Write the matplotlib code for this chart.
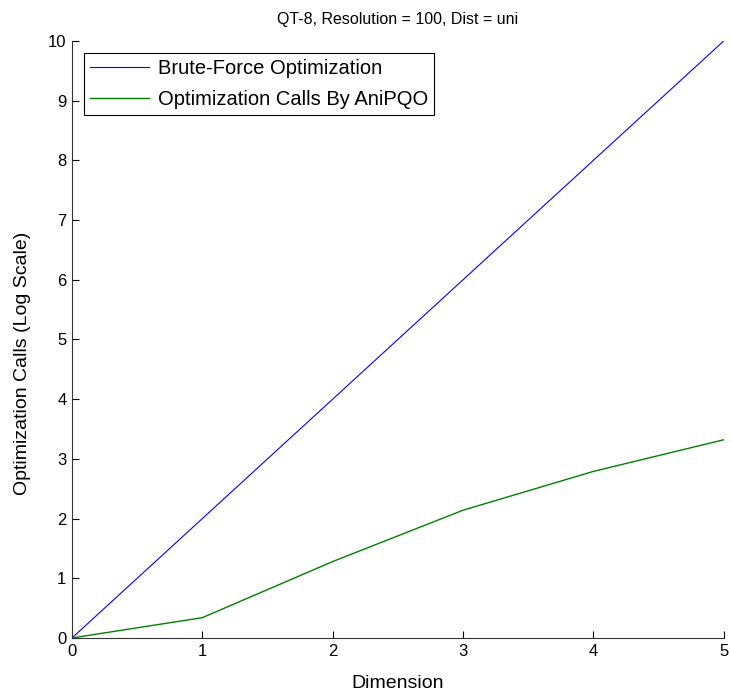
import numpy as np
import matplotlib.pyplot as plt

plt.rcParams['font.family'] = ['Liberation Sans', 'DejaVu Sans']

dims = [0, 1, 2, 3, 4, 5]
brute = [0, 2, 4, 6, 8, 10]
anipqo = [0, 0.34, 1.28, 2.14, 2.79, 3.32]

fig = plt.figure(figsize=(7.31, 6.97), dpi=100)
ax = fig.add_axes([0.0985, 0.0847, 0.8915, 0.8565])

ax.plot(dims, brute, color='#0000ff', lw=0.8, label='Brute-Force Optimization')
ax.plot(dims, anipqo, color='#008000', lw=1.0, label='Optimization Calls By AniPQO')

ax.set_xlim(0, 5)
ax.set_ylim(0, 10)
ax.set_xticks(range(0, 6))
ax.set_yticks(range(0, 11))
ax.tick_params(direction='in', length=5, labelsize=12, width=0.8, pad=4)
ax.spines['top'].set_visible(False)
ax.spines['right'].set_visible(False)
for s in ['left', 'bottom']:
    ax.spines[s].set_linewidth(0.8)
    ax.spines[s].set_color('#333333')

ax.set_xlabel('Dimension', fontsize=14, labelpad=12)
ax.set_ylabel('Optimization Calls (Log Scale)', fontsize=14)
ax.yaxis.set_label_coords(-0.063, 0.46)
ax.set_title('QT-8, Resolution = 100, Dist = uni', fontsize=11.5, pad=12)

leg = ax.legend(loc='upper left', fontsize=14.5, fancybox=False, edgecolor='black',
                framealpha=1, handlelength=2.9, handletextpad=0.45,
                borderaxespad=0.6, borderpad=0.3, labelspacing=0.6)
leg.get_frame().set_linewidth(0.8)

fig.savefig('out.png', dpi=100)
